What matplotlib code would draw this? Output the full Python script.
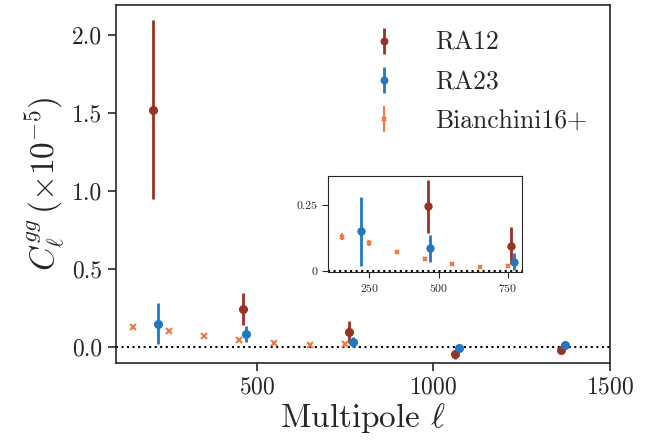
"""Galaxy auto power spectrum C_ell^gg: RA12, RA23 and Bianchini16+ with a zoom inset."""

import matplotlib

matplotlib.use("Agg")

import matplotlib.pyplot as plt  # noqa: E402
import numpy as np  # noqa: E402

# values in units of 1e-5
ELL_RA12 = [205, 460, 760, 1061, 1362]
CL_RA12 = [1.52, 0.245, 0.095, -0.045, -0.017]
ERR_RA12 = [0.57, 0.10, 0.07, 0.03, 0.022]

ELL_RA23 = [219, 470, 772, 1072, 1372]
CL_RA23 = [0.15, 0.085, 0.035, -0.005, 0.012]
ERR_RA23 = [0.13, 0.05, 0.032, 0.02, 0.012]

ELL_B16 = [150, 250, 350, 450, 550, 650, 750]
CL_B16 = [0.13, 0.105, 0.07, 0.045, 0.025, 0.015, 0.02]
ERR_B16 = [0.015, 0.01, 0.007, 0.005, 0.004, 0.004, 0.004]

C_RA12 = "#963226"
C_RA23 = "#1f78c1"
C_B16 = "#f07a45"
TXT = "0.15"

plt.rcParams.update({
    "font.family": "serif",
    "font.serif": ["cmr10"],
    "mathtext.fontset": "cm",
    "axes.formatter.use_mathtext": True,
    "axes.unicode_minus": False,
    "xtick.direction": "out",
    "ytick.direction": "out",
    "text.color": TXT,
    "axes.labelcolor": TXT,
    "xtick.labelcolor": TXT,
    "ytick.labelcolor": TXT,
    "axes.edgecolor": TXT,
    "xtick.color": TXT,
    "ytick.color": TXT,
})


def draw(ax, ms=5.5, ms_x=4):
    ax.errorbar(ELL_RA12, CL_RA12, yerr=ERR_RA12, fmt="o", color=C_RA12,
                ms=ms, elinewidth=2, capsize=0, label="RA12")
    ax.errorbar(ELL_RA23, CL_RA23, yerr=ERR_RA23, fmt="o", color=C_RA23,
                ms=ms, elinewidth=2, capsize=0, label="RA23")
    ax.errorbar(ELL_B16, CL_B16, yerr=ERR_B16, fmt="x", color=C_B16,
                ms=ms_x, mew=1.5, elinewidth=1.5, capsize=0, label="Bianchini16+")
    ax.axhline(0, color="black", ls=":", lw=1.5, zorder=0)


fig = plt.figure(figsize=(6.57, 4.42), dpi=100)
ax = fig.add_axes([0.176, 0.179, 0.752, 0.81])
draw(ax)
ax.set_xlim(100, 1500)
ax.set_ylim(-0.1, 2.19)
ax.set_xticks([500, 1000, 1500])
ax.set_yticks(np.arange(0, 2.01, 0.5))
ax.yaxis.set_major_formatter(plt.FormatStrFormatter("%.1f"))
ax.tick_params(labelsize=17, length=6, width=1.2)
for s in ax.spines.values():
    s.set_linewidth(1.2)
ax.set_xlabel(r"Multipole $\ell$", fontsize=24, labelpad=2)
ax.set_ylabel(r"$C_\ell^{gg}\,(\times 10^{-5})$", fontsize=24, labelpad=4)
ax.legend(loc="upper left", bbox_to_anchor=(0.48, 0.955), fontsize=18.5,
          frameon=False, handletextpad=1.2, borderaxespad=0.0,
          labelspacing=0.6, handlelength=1.6, markerscale=0.85)

axin = fig.add_axes([0.499, 0.385, 0.295, 0.217])
draw(axin, ms=5, ms_x=3.5)
axin.set_xlim(100, 800)
axin.set_ylim(-0.004, 0.36)
axin.set_xticks([250, 500, 750])
axin.set_yticks([0, 0.25])
axin.set_yticklabels(["0", "0.25"])
axin.tick_params(labelsize=8.5, length=4)

fig.savefig("out.png", dpi=100)
